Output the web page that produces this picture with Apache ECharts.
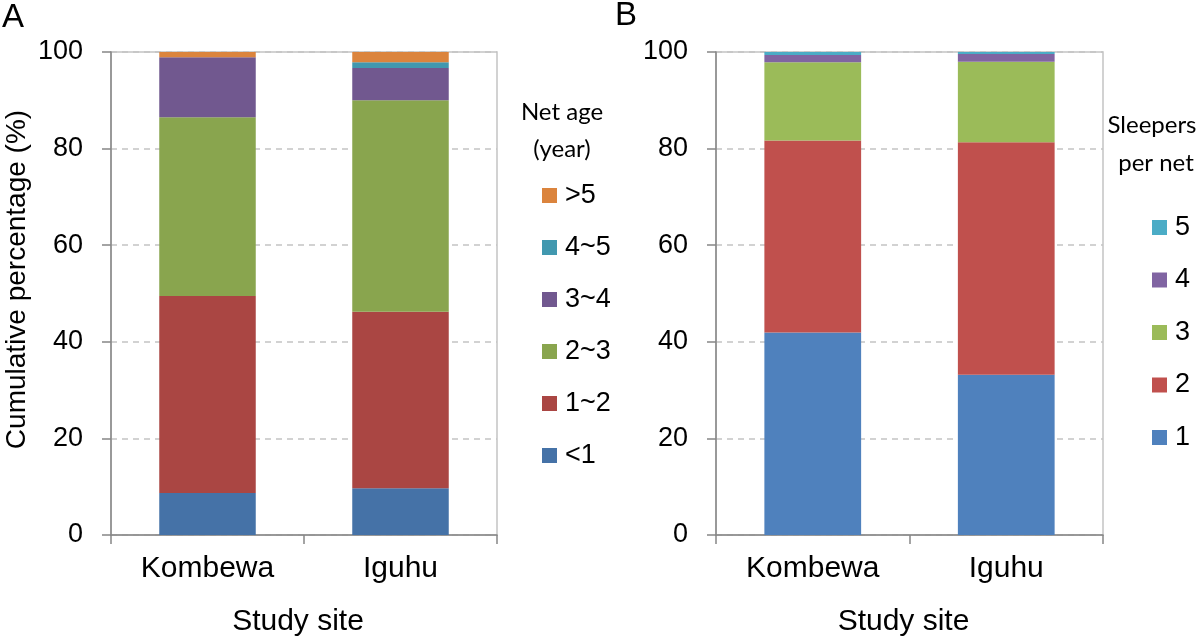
<!DOCTYPE html>
<html>
<head>
<meta charset="utf-8">
<script src="https://cdn.jsdelivr.net/npm/echarts@6/dist/echarts.min.js"></script>
<style>
html,body{margin:0;padding:0;background:#fff;}
#chart{width:1200px;height:642px;}
</style>
</head>
<body>
<div id="chart"></div>
<script>
// ---- Data ----
const sites = ['Kombewa', 'Iguhu'];
const yTicks = [0, 20, 40, 60, 80, 100];

// Panel A: net age (year), cumulative %
const ageNames = ['<1', '1~2', '2~3', '3~4', '4~5', '>5'];
const ageLt1 = [8.7, 9.7];
const age1to2 = [40.8, 36.5];
const age2to3 = [37.0, 43.8];
const age3to4 = [12.4, 6.7];
const age4to5 = [0.0, 1.2];
const ageGt5 = [1.1, 2.1];

// Panel B: sleepers per net, cumulative %
const sleeperNames = ['1', '2', '3', '4', '5'];
const sleep1 = [41.9, 33.2];
const sleep2 = [39.8, 48.1];
const sleep3 = [16.2, 16.7];
const sleep4 = [1.5, 1.6];
const sleep5 = [0.6, 0.4];

const ageColors = ['#4572A7', '#AA4643', '#89A54E', '#71588F', '#4198AF', '#DB843D'];
const sleepColors = ['#4F81BD', '#C0504D', '#9BBB59', '#8064A2', '#4BACC6'];

const FONT = 'Liberation Sans, Arial, sans-serif';
const axisGray = '#868686';
const gridGray = '#c3c3c3';

function xAxisFor(idx) {
  return {
    type: 'category', gridIndex: idx, data: sites,
    axisLine: { show: true, lineStyle: { color: axisGray, width: 1.5 } },
    axisTick: { show: true, interval: 0, length: 9, inside: false, lineStyle: { color: axisGray, width: 1.5 } },
    axisLabel: { color: '#000', fontSize: 30, fontFamily: FONT, margin: 19, interval: 0 },
    name: 'Study site', nameLocation: 'middle', nameGap: 72,
    nameTextStyle: { color: '#000', fontSize: 30, fontFamily: FONT, padding: [0, 12, 0, 0] }
  };
}
function yAxisFor(idx, withName) {
  const o = {
    type: 'value', gridIndex: idx, min: yTicks[0], max: yTicks[yTicks.length - 1], interval: yTicks[1] - yTicks[0],
    axisLine: { show: true, lineStyle: { color: axisGray, width: 1.5 } },
    axisTick: { show: true, length: 9, lineStyle: { color: axisGray, width: 1.5 } },
    axisLabel: { color: '#000', fontSize: 27, fontFamily: FONT, margin: 28 },
    splitLine: { show: true, lineStyle: { color: gridGray, width: 1.5, type: [6, 5] } }
  };
  if (withName) {
    o.name = 'Cumulative percentage (%)';
    o.nameLocation = 'middle';
    o.nameGap = 80;
    o.nameTextStyle = { color: '#000', fontSize: 28, fontFamily: FONT, padding: [0, 0, 0, 28] };
  }
  return o;
}

const ageData = [ageLt1, age1to2, age2to3, age3to4, age4to5, ageGt5];
const sleepData = [sleep1, sleep2, sleep3, sleep4, sleep5];

const series = [];
ageNames.forEach((n, i) => series.push({
  name: n, type: 'bar', stack: 'age', xAxisIndex: 0, yAxisIndex: 0,
  barWidth: '50%', data: ageData[i], itemStyle: { color: ageColors[i] }
}));
sleeperNames.forEach((n, i) => series.push({
  name: n, type: 'bar', stack: 'sleep', xAxisIndex: 1, yAxisIndex: 1,
  barWidth: '50%', data: sleepData[i], itemStyle: { color: sleepColors[i] }
}));

const legendText = { color: '#000', fontSize: 27, fontFamily: FONT, lineHeight: 24, padding: [0, 0, 0, 3] };

const option = {
  animation: false,
  backgroundColor: '#fff',
  grid: [
    { left: 111, top: 52, width: 386, height: 485, show: true, borderColor: gridGray, borderWidth: 1.5, backgroundColor: 'transparent' },
    { left: 716, top: 52, width: 387, height: 485, show: true, borderColor: gridGray, borderWidth: 1.5, backgroundColor: 'transparent' }
  ],
  xAxis: [xAxisFor(0), xAxisFor(1)],
  yAxis: [yAxisFor(0, true), yAxisFor(1, false)],
  legend: [
    {
      data: ageNames.slice().reverse(), orient: 'vertical', left: 537, top: 177,
      itemWidth: 15, itemHeight: 15, itemGap: 25, icon: 'rect',
      textStyle: legendText, selectedMode: false
    },
    {
      data: sleeperNames.slice().reverse(), orient: 'vertical', left: 1147, top: 209,
      itemWidth: 15, itemHeight: 15, itemGap: 25.5, icon: 'rect',
      textStyle: legendText, selectedMode: false
    }
  ],
  graphic: [
    { type: 'text', left: 2, top: 1, style: { text: 'A', fontSize: 33, fontFamily: FONT, fill: '#000' } },
    { type: 'text', left: 615, top: -1, style: { text: 'B', fontSize: 33, fontFamily: FONT, fill: '#000' } },
    { type: 'text', x: 562, y: 112, style: { text: 'Net age', fontSize: 24, fontFamily: 'Lato, sans-serif', fill: '#000', textAlign: 'center', textVerticalAlign: 'middle' } },
    { type: 'text', x: 562, y: 149, style: { text: '(year)', fontSize: 24, fontFamily: 'Lato, sans-serif', fill: '#000', textAlign: 'center', textVerticalAlign: 'middle' } },
    { type: 'text', x: 1152, y: 125, style: { text: 'Sleepers', fontSize: 24, fontFamily: 'Lato, sans-serif', fill: '#000', textAlign: 'center', textVerticalAlign: 'middle' } },
    { type: 'text', x: 1156, y: 163, style: { text: 'per net', fontSize: 24, fontFamily: 'Lato, sans-serif', fill: '#000', textAlign: 'center', textVerticalAlign: 'middle' } }
  ],
  series: series
};

const chart = echarts.init(document.getElementById('chart'), null, { renderer: 'canvas' });
chart.setOption(option);
</script>
</body>
</html>
